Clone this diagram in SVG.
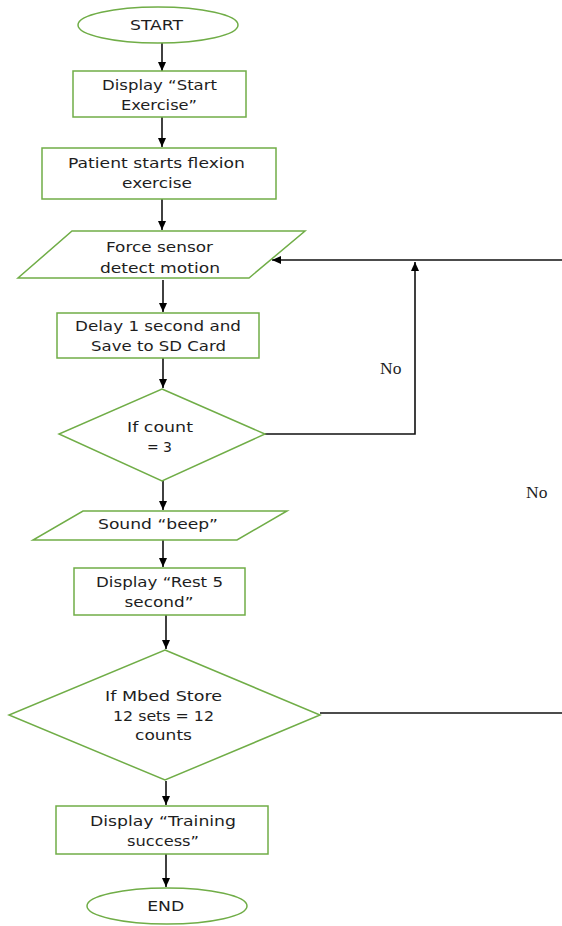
<svg xmlns="http://www.w3.org/2000/svg" width="562" height="926" viewBox="0 0 562 926">
<defs>
<marker id="ah" markerWidth="10" markerHeight="10" refX="9" refY="5" orient="auto" markerUnits="userSpaceOnUse">
<path d="M0,1 L9,5 L0,9 Z" fill="#000"/>
</marker>
<style>
.n{fill:#fff;stroke:#70AD47;stroke-width:1.5}
.t{font-family:"DejaVu Sans","Open Sans",sans-serif;font-size:13.5px;fill:#1e1e1e;text-anchor:middle}
.c{fill:none;stroke:#111;stroke-width:1.6}
.lbl{font-family:"Liberation Serif",serif;font-size:17.5px;fill:#1e1e1e}
</style>
</defs>
<rect width="562" height="926" fill="#fff"/>
<g id="connectors">
<line class="c" x1="162" y1="43" x2="162" y2="71" marker-end="url(#ah)"/>
<line class="c" x1="162" y1="117" x2="162" y2="147" marker-end="url(#ah)"/>
<line class="c" x1="162" y1="199" x2="162" y2="230" marker-end="url(#ah)"/>
<line class="c" x1="163" y1="280" x2="163" y2="312" marker-end="url(#ah)"/>
<line class="c" x1="163" y1="358" x2="163" y2="388" marker-end="url(#ah)"/>
<line class="c" x1="163" y1="481" x2="163" y2="510" marker-end="url(#ah)"/>
<line class="c" x1="163" y1="540" x2="163" y2="567" marker-end="url(#ah)"/>
<line class="c" x1="166" y1="615" x2="166" y2="649" marker-end="url(#ah)"/>
<line class="c" x1="166" y1="781" x2="166" y2="805" marker-end="url(#ah)"/>
<line class="c" x1="166" y1="854" x2="166" y2="887" marker-end="url(#ah)"/>
<line class="c" x1="562" y1="260" x2="272" y2="260" marker-end="url(#ah)"/>
<polyline class="c" points="265,434 415,434 415,262" marker-end="url(#ah)"/>
<line class="c" x1="320" y1="713" x2="562" y2="713"/>
<text class="lbl" x="380" y="374">No</text>
<text class="lbl" x="526" y="498">No</text>
</g>
<g id="start">
<ellipse class="n" cx="158" cy="25" rx="80" ry="18"/>
<text class="t" x="156.5" y="30" textLength="53" lengthAdjust="spacingAndGlyphs">START</text>
</g>
<g id="display-start">
<rect class="n" x="73" y="71" width="173" height="46"/>
<text class="t" x="159.5" y="90" textLength="115" lengthAdjust="spacingAndGlyphs">Display “Start</text>
<text class="t" x="159" y="110" textLength="76" lengthAdjust="spacingAndGlyphs">Exercise”</text>
</g>
<g id="patient-starts">
<rect class="n" x="42" y="148" width="234" height="51"/>
<text class="t" x="156.5" y="168" textLength="177" lengthAdjust="spacingAndGlyphs">Patient starts flexion</text>
<text class="t" x="157" y="188" textLength="70" lengthAdjust="spacingAndGlyphs">exercise</text>
</g>
<g id="force-sensor">
<polygon class="n" points="72,231 305,231 249,278 18,278"/>
<text class="t" x="159.5" y="252" textLength="107" lengthAdjust="spacingAndGlyphs">Force sensor</text>
<text class="t" x="160" y="273" textLength="120" lengthAdjust="spacingAndGlyphs">detect motion</text>
</g>
<g id="delay">
<rect class="n" x="57" y="313" width="202" height="45"/>
<text class="t" x="158" y="331" textLength="166" lengthAdjust="spacingAndGlyphs">Delay 1 second and</text>
<text class="t" x="158.5" y="351" textLength="135" lengthAdjust="spacingAndGlyphs">Save to SD Card</text>
</g>
<g id="if-count">
<polygon class="n" points="162,389 265,434 162,481 59,434"/>
<text class="t" x="160" y="432" textLength="66" lengthAdjust="spacingAndGlyphs">If count</text>
<text class="t" x="159.5" y="452" textLength="25" lengthAdjust="spacingAndGlyphs">= 3</text>
</g>
<g id="sound-beep">
<polygon class="n" points="83,511 287,511 237,540 33,540"/>
<text class="t" x="158" y="529" textLength="120" lengthAdjust="spacingAndGlyphs">Sound “beep”</text>
</g>
<g id="display-rest">
<rect class="n" x="74" y="568" width="171" height="47"/>
<text class="t" x="159.5" y="587" textLength="127" lengthAdjust="spacingAndGlyphs">Display “Rest 5</text>
<text class="t" x="159" y="607" textLength="69" lengthAdjust="spacingAndGlyphs">second”</text>
</g>
<g id="if-mbed">
<polygon class="n" points="165,650 320,715 165,780 9,715"/>
<text class="t" x="163.5" y="701" textLength="117" lengthAdjust="spacingAndGlyphs">If Mbed Store</text>
<text class="t" x="163.5" y="721" textLength="101" lengthAdjust="spacingAndGlyphs">12 sets = 12</text>
<text class="t" x="163.5" y="740" textLength="57" lengthAdjust="spacingAndGlyphs">counts</text>
</g>
<g id="display-training">
<rect class="n" x="56" y="806" width="212" height="48"/>
<text class="t" x="163" y="826" textLength="146" lengthAdjust="spacingAndGlyphs">Display “Training</text>
<text class="t" x="163" y="846" textLength="72" lengthAdjust="spacingAndGlyphs">success”</text>
</g>
<g id="end">
<ellipse class="n" cx="167" cy="906" rx="80" ry="18"/>
<text class="t" x="165.7" y="911" textLength="37" lengthAdjust="spacingAndGlyphs">END</text>
</g>
</svg>
